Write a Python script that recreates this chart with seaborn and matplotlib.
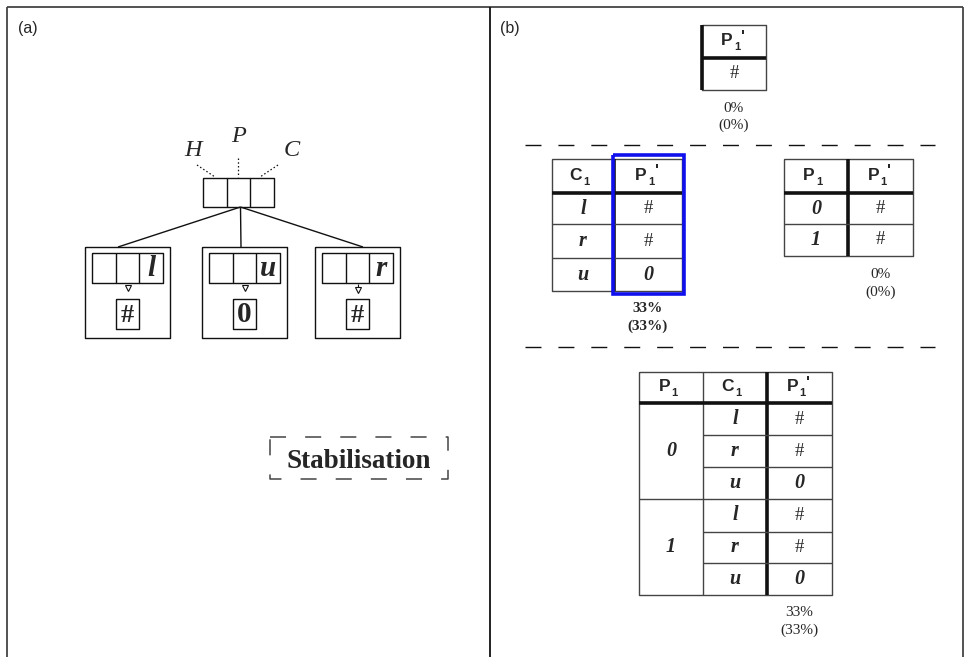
import matplotlib
matplotlib.use("Agg")
import matplotlib.pyplot as plt
import seaborn as sns

# ---------------- data ----------------
PANEL_LABELS = ["(a)", "(b)"]
HPC_LABELS = ["H", "P", "C"]
CHILD_LABELS = ["l", "u", "r"]
CHILD_RESULTS = ["#", "0", "#"]
STAB_TEXT = "Stabilisation"

T1_HEADERS = ["P1'"]
T1_ROWS = [["#"]]
T1_PCT = ["0%", "(0%)"]

T2_HEADERS = ["C1", "P1'"]
T2_ROWS = [["l", "#"], ["r", "#"], ["u", "0"]]
T2_PCT = ["33%", "(33%)"]

T3_HEADERS = ["P1", "P1'"]
T3_ROWS = [["0", "#"], ["1", "#"]]
T3_PCT = ["0%", "(0%)"]

T4_HEADERS = ["P1", "C1", "P1'"]
T4_ROWS = [["0", "l", "#"], ["0", "r", "#"], ["0", "u", "0"],
           ["1", "l", "#"], ["1", "r", "#"], ["1", "u", "0"]]
T4_PCT = ["33%", "(33%)"]

SERIF = "Liberation Serif"
SANS = "Liberation Sans"

sns.set_style("white")
fig = plt.figure(figsize=(9.65, 6.57), dpi=100)
ax = fig.add_axes([0, 0, 1, 1])
ax.set_xlim(0, 965)
ax.set_ylim(657, 0)
ax.axis("off")

K = "#111111"
G = "#444444"


def line(xs, ys, **kw):
    kw.setdefault("color", K)
    kw.setdefault("lw", 1.0)
    kw.setdefault("solid_capstyle", "butt")
    ax.plot(xs, ys, **kw)


def rect(x0, y0, x1, y1, **kw):
    line([x0, x1, x1, x0, x0], [y0, y0, y1, y1, y0], **kw)


# ---------------- frame ----------------
line([7, 963], [7, 7], color=G, lw=1.3)
line([7, 7], [7, 660], color=G, lw=1.3)
line([490, 490], [7, 660], color=K, lw=1.3)
line([963, 963], [7, 660], color=G, lw=1.3)
ax.text(18, 28, PANEL_LABELS[0], fontsize=11.5, family=SANS, ha="left", va="center")
ax.text(500, 28, PANEL_LABELS[1], fontsize=11.5, family=SANS, ha="left", va="center")

# ---------------- panel (a) ----------------
tx0, tx1, ty0, ty1 = 203, 274, 178, 207
rect(tx0, ty0, tx1, ty1)
for xd in (227, 250):
    line([xd, xd], [ty0, ty1])
label_pos = [(193, 151), (239, 137), (292, 151)]
dot_lines = [((197, 215), (165, 177)), ((238, 238), (158, 177)), ((278, 260), (165, 177))]
for lab, (lx, ly), (dx, dy) in zip(HPC_LABELS, label_pos, dot_lines):
    ax.text(lx, ly, lab, fontsize=17.5, family=SERIF, style="italic", ha="center", va="center")
    line(list(dx), list(dy), lw=0.9, ls=(0, (1.2, 1.8)))

child_x = [85, 202, 315]
for i, (cx0, lab, res) in enumerate(zip(child_x, CHILD_LABELS, CHILD_RESULTS)):
    cw = 85
    line([240.5, cx0 + [33, 39, 48][i]], [ty1, 247])
    rect(cx0, 247, cx0 + cw, 338)
    ix0 = cx0 + 7
    iw = 71
    rect(ix0, 253, ix0 + iw, 283)
    for k in (1, 2):
        xd = ix0 + iw * k / 3
        line([xd, xd], [253, 283])
    ax.text(ix0 + iw * 5 / 6, 268, lab, fontsize=21, family=SERIF, style="italic",
            weight="bold", ha="center", va="center")
    mx = ix0 + iw / 2
    if i < 2:
        ax.plot([mx], [288], marker="v", ms=5, mfc="white", mec=K, mew=0.8)
    else:
        line([mx, mx], [284, 288], lw=0.8)
        ax.plot([mx], [289.5], marker="v", ms=4, mfc="white", mec=K, mew=0.8)
    rect(mx - 11.5, 299, mx + 11.5, 329)
    ax.text(mx, 315, res, fontsize=19 if res == "#" else 21, family=SERIF, weight="bold",
            ha="center", va="center")

# Stabilisation box (dashed)
sx0, sy0, sx1, sy1 = 270, 437, 448, 479
line([sx0, sx1, sx1, sx0, sx0], [sy0, sy0, sy1, sy1, sy0], color=G, lw=1.1,
     dashes=(10.5, 12.5))
ax.text((sx0 + sx1) / 2, 461, STAB_TEXT, fontsize=19.5, family=SERIF, weight="bold",
        ha="center", va="center")

# ---------------- panel (b) ----------------
line([525, 935], [145, 145], lw=1.0, dashes=(11.5, 12.2))
line([525, 935], [347, 347], lw=1.0, dashes=(11.5, 12.2))


def header(cx, cy, name):
    base = name[0]
    sub = name[1]
    prime = name.endswith("'")
    ax.text(cx - 1, cy - 1, base, fontsize=12.5, family=SANS, weight="bold", ha="right", va="center")
    ax.text(cx, cy + 6, sub, fontsize=8, family=SANS, weight="bold", ha="left", va="center")
    if prime:
        ax.text(cx + 6.5, cy - 4, "'", fontsize=12, family=SANS, weight="bold", ha="left", va="center")


def value(cx, cy, v):
    if v == "#":
        ax.text(cx, cy, v, fontsize=13.5, family=SERIF, ha="center", va="center")
    else:
        ax.text(cx, cy, v, fontsize=14.5, family=SERIF, style="italic", weight="bold",
                ha="center", va="center")


def table(xe, ye, headers, rows, thick_v, merge_first=False, pct=None, pct_bold=False,
          pct_y=None):
    x0, x1 = xe[0], xe[-1]
    y0, y1 = ye[0], ye[-1]
    rect(x0, y0, x1, y1, color=G, lw=1.0)
    for j, xv in enumerate(xe):
        if j in thick_v:
            line([xv, xv], [y0, y1], color=K, lw=2.6)
        elif 0 < j < len(xe) - 1:
            line([xv, xv], [y0, y1], color=G, lw=1.0)
    line([x0, x1], [ye[1], ye[1]], color=K, lw=2.6)
    for r in range(1, len(rows)):
        yv = ye[r + 1]
        if merge_first and rows[r][0] == rows[r - 1][0]:
            line([xe[1], x1], [yv, yv], color=G, lw=1.0)
        else:
            line([x0, x1], [yv, yv], color=G, lw=1.0)
    for j, h in enumerate(headers):
        header((xe[j] + xe[j + 1]) / 2, (ye[0] + ye[1]) / 2, h)
    for r, row in enumerate(rows):
        cy = (ye[r + 1] + ye[r + 2]) / 2
        for j, v in enumerate(row):
            if merge_first and j == 0:
                continue
            value((xe[j] + xe[j + 1]) / 2, cy, v)
    if merge_first:
        groups = []
        for r, row in enumerate(rows):
            if groups and groups[-1][0] == row[0]:
                groups[-1][2] = r
            else:
                groups.append([row[0], r, r])
        for g, ra, rb in groups:
            value((xe[0] + xe[1]) / 2, (ye[ra + 1] + ye[rb + 2]) / 2, g)
    if pct is not None:
        px = (xe[-2] + xe[-1]) / 2
        for t, yy in zip(pct, pct_y):
            ax.text(px, yy, t, fontsize=11, family=SERIF, weight="bold" if pct_bold else "normal",
                    ha="center", va="center")


table([702, 766], [25, 58, 90], T1_HEADERS, T1_ROWS, thick_v={0}, pct=T1_PCT, pct_y=[108, 125])
table([552, 614, 682], [159, 193, 224, 258, 291], T2_HEADERS, T2_ROWS, thick_v={1},
      pct=T2_PCT, pct_bold=True, pct_y=[309, 326])
rect(613, 155, 684, 294, color="#1010ee", lw=2.6, solid_joinstyle="miter")
table([784, 848, 913], [159, 193, 224, 256], T3_HEADERS, T3_ROWS, thick_v={1},
      pct=T3_PCT, pct_y=[275, 292])
table([639, 703, 767, 832], [372, 403, 435, 467, 499, 532, 563, 595], T4_HEADERS, T4_ROWS,
      thick_v={2}, merge_first=True, pct=T4_PCT, pct_y=[612, 630])

fig.savefig("out.png", dpi=100)
